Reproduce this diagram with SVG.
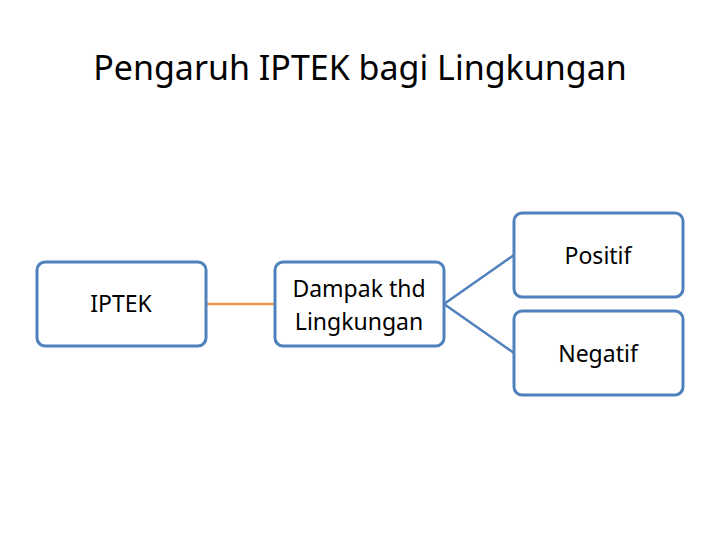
<svg xmlns="http://www.w3.org/2000/svg" width="720" height="540" viewBox="0 0 720 540">
<style>
.box{fill:#fff;stroke:#4f81bd;stroke-width:3}
text{font-family:"Noto Sans","Liberation Sans",sans-serif;fill:#000;text-anchor:middle}
.t{font-size:23px}
</style>
<rect width="720" height="540" fill="#fff"/>
<text x="360" y="80" style="font-size:34px">Pengaruh IPTEK bagi Lingkungan</text>
<g id="connectors">
<line x1="206" y1="304" x2="275" y2="304" stroke="#f79646" stroke-width="2.5"/>
<line x1="444" y1="304" x2="514" y2="255" stroke="#4f81bd" stroke-width="2.5"/>
<line x1="444" y1="304" x2="514" y2="353" stroke="#4f81bd" stroke-width="2.5"/>
</g>
<g id="iptek"><rect class="box" x="37" y="262" width="169" height="84" rx="8"/><text class="t" x="121" y="312">IPTEK</text></g>
<g id="dampak"><rect class="box" x="275" y="262" width="169" height="84" rx="8"/><text class="t" x="359" y="297">Dampak thd</text><text class="t" x="359" y="330">Lingkungan</text></g>
<g id="positif"><rect class="box" x="514" y="213" width="169" height="84" rx="8"/><text class="t" x="598" y="264">Positif</text></g>
<g id="negatif"><rect class="box" x="514" y="311" width="169" height="84" rx="8"/><text class="t" x="598" y="362">Negatif</text></g>
</svg>
